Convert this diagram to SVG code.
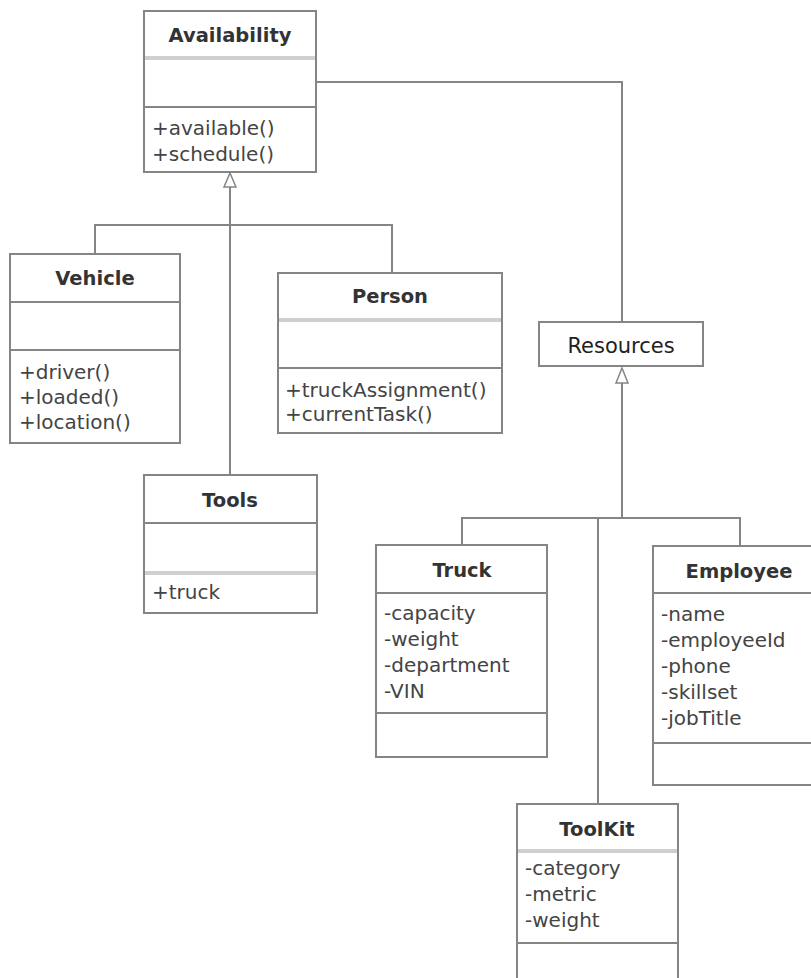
<svg xmlns="http://www.w3.org/2000/svg" width="811" height="978" viewBox="0 0 811 978">
<defs>
<style>
rect.box{fill:#fff;stroke:#858585;stroke-width:2}
line.sep{stroke:#858585;stroke-width:2}
line.lsep{stroke:#cfcfcf;stroke-width:4}
.conn path{fill:none;stroke:#858585;stroke-width:2}
.conn polygon{fill:#fff;stroke:#858585;stroke-width:1.5}
text{font-family:"DejaVu Sans","Noto Sans",sans-serif;font-size:20px;fill:#444}
text.t{font-weight:bold;font-size:19.5px;fill:#333;text-anchor:middle}
</style>
</defs>
<rect width="811" height="978" fill="#fff"/>
<g class="conn" id="connectors">
<path d="M316,82 H622 V322"/>
<path d="M95,254 V225 H392 V274"/>
<path d="M230,475 V187"/>
<polygon points="230,173 236,187 224,187"/>
<path d="M462,545 V518 H740 V546"/>
<path d="M598,804 V518"/>
<path d="M622,518 V383"/>
<polygon points="622,368 628,383 616,383"/>
</g>
<g id="Availability">
<rect class="box" x="144" y="11" width="172" height="161"/>
<line class="lsep" x1="145" y1="58" x2="315" y2="58"/>
<line class="sep" x1="144" y1="107" x2="316" y2="107"/>
<text class="t" x="230" y="42">Availability</text>
<text x="152" y="135">+available()</text>
<text x="152" y="161">+schedule()</text>
</g>
<g id="Vehicle">
<rect class="box" x="10" y="254" width="170" height="189"/>
<line class="sep" x1="10" y1="302" x2="180" y2="302"/>
<line class="sep" x1="10" y1="350" x2="180" y2="350"/>
<text class="t" x="95" y="285">Vehicle</text>
<text x="19" y="379">+driver()</text>
<text x="19" y="404">+loaded()</text>
<text x="19" y="429">+location()</text>
</g>
<g id="Person">
<rect class="box" x="278" y="273" width="224" height="160"/>
<line class="lsep" x1="279" y1="320" x2="501" y2="320"/>
<line class="sep" x1="278" y1="368" x2="502" y2="368"/>
<text class="t" x="390" y="303">Person</text>
<text x="285" y="397">+truckAssignment()</text>
<text x="285" y="421">+currentTask()</text>
</g>
<g id="Tools">
<rect class="box" x="144" y="475" width="173" height="138"/>
<line class="sep" x1="144" y1="523" x2="317" y2="523"/>
<line class="lsep" x1="145" y1="573" x2="316" y2="573"/>
<text class="t" x="230" y="507">Tools</text>
<text x="152" y="599">+truck</text>
</g>
<g id="Resources">
<rect class="box" x="539" y="322" width="164" height="44"/>
<text class="t" x="621" y="353" style="font-weight:normal;font-size:21px;fill:#222">Resources</text>
</g>
<g id="Truck">
<rect class="box" x="376" y="545" width="171" height="212"/>
<line class="sep" x1="376" y1="593" x2="547" y2="593"/>
<line class="sep" x1="376" y1="713" x2="547" y2="713"/>
<text class="t" x="462" y="577">Truck</text>
<text x="384" y="620">-capacity</text>
<text x="384" y="646">-weight</text>
<text x="384" y="672">-department</text>
<text x="384" y="698">-VIN</text>
</g>
<g id="Employee">
<rect class="box" x="653" y="546" width="170" height="239"/>
<line class="sep" x1="653" y1="593" x2="811" y2="593"/>
<line class="sep" x1="653" y1="743" x2="811" y2="743"/>
<text class="t" x="739" y="578">Employee</text>
<text x="661" y="621">-name</text>
<text x="661" y="647">-employeeId</text>
<text x="661" y="673">-phone</text>
<text x="661" y="699">-skillset</text>
<text x="661" y="725">-jobTitle</text>
</g>
<g id="ToolKit">
<rect class="box" x="517" y="804" width="161" height="190"/>
<line class="lsep" x1="518" y1="851" x2="677" y2="851"/>
<line class="sep" x1="517" y1="943" x2="678" y2="943"/>
<text class="t" x="597" y="836">ToolKit</text>
<text x="525" y="875">-category</text>
<text x="525" y="901">-metric</text>
<text x="525" y="927">-weight</text>
</g>
</svg>
